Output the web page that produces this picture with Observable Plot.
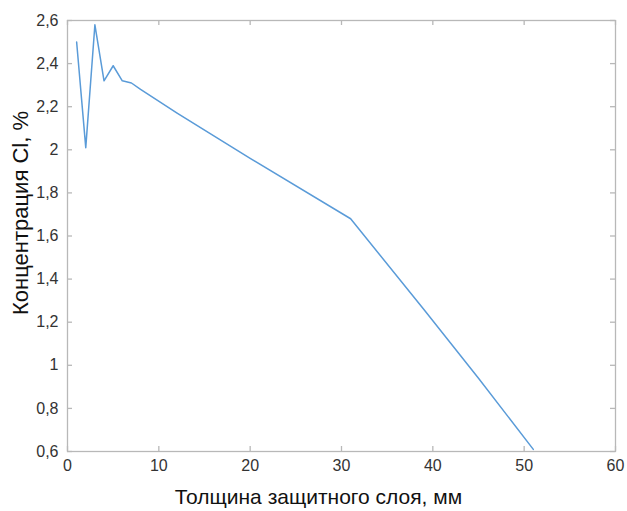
<!DOCTYPE html>
<html>
<head>
<meta charset="utf-8">
<script src="https://cdn.jsdelivr.net/npm/d3@7"></script>
<script src="https://cdn.jsdelivr.net/npm/@observablehq/plot@0.6"></script>
<style>
  html, body { margin: 0; padding: 0; background: #fff; }
  svg { display: block; }
</style>
</head>
<body>
<div id="chart"></div>
<script>
const thickness = [1, 2, 3, 4, 5, 6, 7, 8, 12, 20, 31, 39, 45, 51];
const concentration = [2.50, 2.01, 2.58, 2.32, 2.39, 2.32, 2.31, 2.28, 2.17, 1.96, 1.68, 1.26, 0.94, 0.61];
const xTicks = [0, 10, 20, 30, 40, 50, 60];
const yTicks = [0.6, 0.8, 1, 1.2, 1.4, 1.6, 1.8, 2, 2.2, 2.4, 2.6];
const xLabel = "Толщина защитного слоя, мм";
const yLabel = "Концентрация Cl, %";

const data = thickness.map((t, i) => ({x: t, y: concentration[i]}));
const fmt = d => String(d).replace(".", ",");
const frameColor = "#b8b8b8";

const W = 627, H = 511, mL = 67, mR = 12, mT = 20, mB = 60;
const innerW = W - mL - mR, innerH = H - mT - mB, tick = 5;

const chart = Plot.plot({
  width: W,
  height: H,
  marginLeft: mL,
  marginRight: mR,
  marginTop: mT,
  marginBottom: mB,
  style: {fontFamily: "'Liberation Sans', Arial, sans-serif", fontSize: "16px", color: "#333"},
  x: {domain: [0, 60]},
  y: {domain: [0.6, 2.6]},
  marks: [
    Plot.axisX(xTicks, {anchor: "bottom", tickSize: 0, tickPadding: 8, tickFormat: fmt, fill: "#333", fontSize: 16, label: null}),
    Plot.axisY(yTicks, {anchor: "left", tickSize: 0, tickPadding: 9, tickFormat: fmt, fill: "#333", fontSize: 16, label: null}),
    Plot.tickX(xTicks, {x: d => d, stroke: frameColor, strokeWidth: 1.3, insetTop: innerH - tick}),
    Plot.tickX(xTicks, {x: d => d, stroke: frameColor, strokeWidth: 1.3, insetBottom: innerH - tick}),
    Plot.tickY(yTicks, {y: d => d, stroke: frameColor, strokeWidth: 1.3, insetRight: innerW - tick}),
    Plot.tickY(yTicks, {y: d => d, stroke: frameColor, strokeWidth: 1.3, insetLeft: innerW - tick}),
    Plot.frame({stroke: frameColor, strokeWidth: 1.3}),
    Plot.line(data, {x: "x", y: "y", stroke: "#5a9bd8", strokeWidth: 1.5}),
    Plot.text([xLabel], {text: d => d, frameAnchor: "bottom", dx: -23, dy: 46, lineAnchor: "middle", textAnchor: "middle", fontSize: 21, fill: "#111"}),
    Plot.text([yLabel], {text: d => d, frameAnchor: "left", dx: -47, dy: -23, rotate: -90, lineAnchor: "middle", textAnchor: "middle", fontSize: 22, fill: "#111"})
  ]
});
document.getElementById("chart").appendChild(chart);
</script>
</body>
</html>
